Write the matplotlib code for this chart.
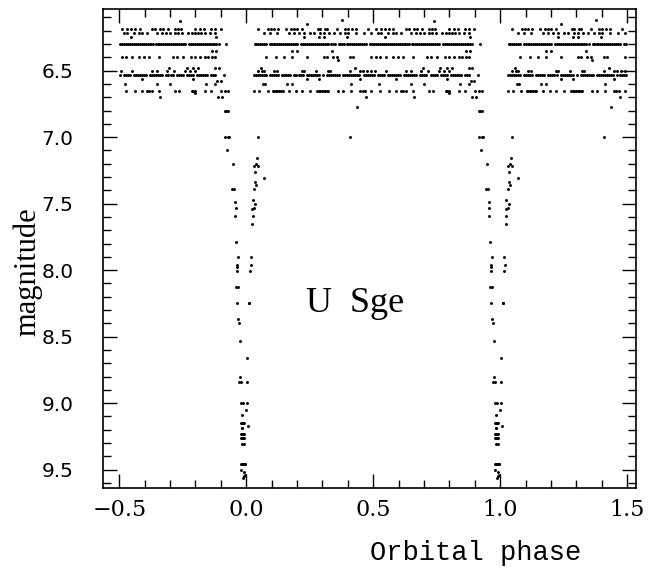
import numpy as np
import matplotlib
matplotlib.use("Agg")
import matplotlib.pyplot as plt
from matplotlib.ticker import MultipleLocator, FixedLocator, FixedFormatter

# ---- data: one orbital cycle, phases, grouped by magnitude ----
row_612 = [0.376]
row_615 = [0.240]
row_613 = [0.739]
row_619 = [0.048, 0.087, 0.097, 0.110, 0.127, 0.156, 0.175, 0.188, 0.201, 0.220, 0.281, 0.292,
           0.311, 0.320, 0.357, 0.389, 0.402, 0.415, 0.434, 0.480, 0.510, 0.532, 0.547, 0.564,
           0.580, 0.629, 0.642, 0.661, 0.674, 0.691, 0.720, 0.733, 0.743, 0.798, 0.817, 0.834,
           0.863, 0.876, 0.899]
row_622 = [0.069, 0.095, 0.121, 0.169, 0.188, 0.208, 0.227, 0.253, 0.268, 0.292, 0.305, 0.328,
           0.344, 0.370, 0.389, 0.402, 0.434, 0.463, 0.493, 0.519, 0.532, 0.558, 0.577, 0.590,
           0.610, 0.649, 0.668, 0.685, 0.701, 0.720, 0.730, 0.746, 0.772, 0.785, 0.798, 0.811,
           0.821, 0.837, 0.856, 0.878]
row_625 = [0.227, 0.285, 0.305, 0.398, 0.545, 0.880]
row_630 = [0.033, 0.040, 0.047, 0.055, 0.062, 0.070, 0.077, 0.092, 0.100, 0.108, 0.115, 0.123,
           0.131, 0.139, 0.146, 0.154, 0.162, 0.170, 0.177, 0.185, 0.193, 0.200, 0.216, 0.224,
           0.231, 0.239, 0.247, 0.255, 0.262, 0.270, 0.278, 0.286, 0.293, 0.301, 0.309, 0.317,
           0.324, 0.332, 0.340, 0.348, 0.364, 0.371, 0.379, 0.387, 0.395, 0.402, 0.410, 0.418,
           0.426, 0.433, 0.441, 0.449, 0.457, 0.464, 0.472, 0.488, 0.496, 0.503, 0.511, 0.519,
           0.527, 0.534, 0.542, 0.550, 0.558, 0.565, 0.573, 0.581, 0.589, 0.596, 0.604, 0.612,
           0.620, 0.627, 0.635, 0.643, 0.651, 0.658, 0.666, 0.674, 0.682, 0.689, 0.697, 0.705,
           0.713, 0.720, 0.728, 0.736, 0.744, 0.751, 0.759, 0.775, 0.782, 0.790, 0.798, 0.806,
           0.813, 0.821, 0.829, 0.837, 0.844, 0.852, 0.860, 0.868, 0.875, 0.883, 0.891, 0.921]
row_635 = [0.182, 0.201, 0.337, 0.864, 0.883]
row_640 = [0.078, 0.117, 0.149, 0.182, 0.240, 0.305, 0.320, 0.341, 0.357, 0.409, 0.422, 0.493,
           0.512, 0.525, 0.551, 0.577, 0.597, 0.616, 0.655, 0.713, 0.726, 0.752, 0.782, 0.798,
           0.817, 0.837, 0.850, 0.864, 0.878]
row_642 = [0.363]
row_648 = [0.058, 0.428, 0.697, 0.765, 0.789, 0.811, 0.876, 0.891]
row_650 = [0.045, 0.062, 0.069, 0.108, 0.121, 0.220, 0.227, 0.276, 0.324, 0.331, 0.409, 0.447,
           0.460, 0.476, 0.493, 0.506, 0.551, 0.629, 0.649, 0.688, 0.716, 0.759, 0.778, 0.798]
row_653 = [0.030, 0.038, 0.046, 0.054, 0.062, 0.070, 0.078, 0.094, 0.102, 0.110, 0.118, 0.126,
           0.142, 0.150, 0.158, 0.166, 0.174, 0.190, 0.198, 0.206, 0.214, 0.222, 0.238, 0.246,
           0.254, 0.262, 0.270, 0.278, 0.286, 0.302, 0.318, 0.326, 0.334, 0.342, 0.350, 0.358,
           0.366, 0.382, 0.390, 0.398, 0.406, 0.414, 0.422, 0.430, 0.438, 0.446, 0.462, 0.470,
           0.478, 0.486, 0.494, 0.502, 0.518, 0.526, 0.534, 0.542, 0.558, 0.566, 0.574, 0.582,
           0.590, 0.598, 0.606, 0.622, 0.630, 0.638, 0.646, 0.654, 0.662, 0.670, 0.686, 0.694,
           0.702, 0.710, 0.726, 0.734, 0.742, 0.750, 0.766, 0.774, 0.782, 0.790, 0.806, 0.814,
           0.822, 0.830, 0.838, 0.846, 0.862, 0.870, 0.878, 0.912]
row_656 = [0.240, 0.285, 0.450, 0.590, 0.791]
row_658 = [0.886, 0.899]
row_660 = [0.065, 0.074, 0.160, 0.182, 0.413, 0.523, 0.649, 0.701, 0.843, 0.876]
row_665 = [0.030, 0.052, 0.084, 0.104, 0.110, 0.117, 0.123, 0.130, 0.136, 0.143, 0.169, 0.195,
           0.220, 0.253, 0.279, 0.285, 0.292, 0.298, 0.305, 0.311, 0.318, 0.324, 0.363, 0.383,
           0.413, 0.447, 0.458, 0.467, 0.493, 0.525, 0.564, 0.590, 0.610, 0.619, 0.629, 0.655,
           0.720, 0.737, 0.785, 0.791, 0.798, 0.837, 0.863, 0.902, 0.915, 0.928]
row_667 = [0.798]
row_670 = [0.471, 0.661, 0.889, 0.903]
row_677 = [0.435]
row_680 = [0.915, 0.921, 0.928]
row_700 = [0.410, 0.048, 0.915, 0.928, 0.933]

# eclipse ingress / egress points (phase, magnitude)
eclipse_phase = [0.926, 0.949, 0.944, 0.952, 0.955, 0.958, 0.957, 0.961, 0.968, 0.964, 0.965,
                 0.964, 0.961, 0.968, 0.964, 0.968, 0.972, 0.974, 0.977, 0.970, 0.978, 0.978,
                 0.987, 0.985, 0.978, 0.982, 0.986, 0.990, 0.982, 0.985, 0.981, 0.984, 0.988,
                 0.991, 0.978, 0.982, 0.987, 0.992, 0.985, 0.990, 0.978, 0.982, 0.986, 0.990,
                 0.994, 0.997, 0.981, 0.993, 0.995, 0.990, 0.988,
                 0.043, 0.039, 0.030, 0.045, 0.035, 0.071, 0.035, 0.039, 0.030, 0.025, 0.035,
                 0.030, 0.023, 0.025, 0.022, 0.017, 0.019, 0.014, 0.010, 0.013, 0.004, 0.002,
                 0.004, 0.998, 0.006]
eclipse_mag = [7.10, 7.20, 7.39, 7.39, 7.49, 7.53, 7.59, 7.79, 7.90, 7.96, 7.98,
               8.01, 8.13, 8.13, 8.25, 8.37, 8.40, 8.53, 8.80, 8.84, 8.84, 9.00,
               9.00, 9.09, 9.15, 9.15, 9.15, 9.15, 9.19, 9.19, 9.23, 9.23, 9.23,
               9.23, 9.26, 9.26, 9.26, 9.26, 9.31, 9.31, 9.46, 9.46, 9.46, 9.46,
               9.46, 9.46, 9.50, 9.52, 9.54, 9.55, 9.56,
               7.16, 7.20, 7.22, 7.22, 7.26, 7.31, 7.34, 7.36, 7.39, 7.47, 7.50,
               7.53, 7.54, 7.59, 7.65, 7.90, 7.96, 8.01, 8.25, 8.25, 8.66, 8.84,
               9.00, 9.05, 9.17]

rows = [(6.12, row_612), (6.15, row_615), (6.13, row_613), (6.19, row_619), (6.22, row_622),
        (6.25, row_625), (6.30, row_630), (6.35, row_635), (6.40, row_640), (6.42, row_642),
        (6.48, row_648), (6.50, row_650), (6.53, row_653), (6.56, row_656), (6.58, row_658),
        (6.60, row_660), (6.65, row_665), (6.67, row_667), (6.70, row_670), (6.77, row_677),
        (6.80, row_680), (7.00, row_700)]

x_ticks = [-0.5, 0.0, 0.5, 1.0, 1.5]
x_tick_labels = ["\u22120.5", "0.0", "0.5", "1.0", "1.5"]
y_ticks = [6.5, 7.0, 7.5, 8.0, 8.5, 9.0, 9.5]
y_tick_labels = ["6.5", "7.0", "7.5", "8.0", "8.5", "9.0", "9.5"]

# assemble one cycle
phase_one = []
mag_one = []
for m, ph in rows:
    phase_one += list(ph)
    mag_one += [m] * len(ph)
phase_one += eclipse_phase
mag_one += eclipse_mag
phase_one = np.array(phase_one)
mag_one = np.array(mag_one)

# fold: show the cycle repeated over phase -0.5 .. 1.5
xs, ys = [], []
for off in (-1.0, 0.0, 1.0):
    p = phase_one + off
    keep = (p >= -0.5) & (p <= 1.5)
    xs.append(p[keep])
    ys.append(mag_one[keep])
xs = np.concatenate(xs)
ys = np.concatenate(ys)

fig = plt.figure(figsize=(6.48, 5.72), dpi=100)
ax = fig.add_axes([0.1585, 0.1469, 0.823, 0.8374])
ax.scatter(xs, ys, s=4.5, c="black", marker="o", linewidths=0)

ax.set_xlim(-0.565, 1.535)
ax.set_ylim(9.638, 6.036)

ax.xaxis.set_major_locator(FixedLocator(x_ticks))
ax.xaxis.set_major_formatter(FixedFormatter(x_tick_labels))
ax.xaxis.set_minor_locator(MultipleLocator(0.1))
ax.yaxis.set_major_locator(FixedLocator(y_ticks))
ax.yaxis.set_major_formatter(FixedFormatter(y_tick_labels))
ax.yaxis.set_minor_locator(MultipleLocator(0.1))

ax.tick_params(which="both", direction="in", top=True, right=True, color="black")
ax.tick_params(which="major", length=10, width=1.0)
ax.tick_params(which="minor", length=6, width=1.0)
for lab in ax.get_xticklabels():
    lab.set_fontfamily("DejaVu Serif")
    lab.set_fontsize(16)
for lab in ax.get_yticklabels():
    lab.set_fontfamily("DejaVu Sans")
    lab.set_fontsize(14.5)
ax.tick_params(axis="x", pad=8)
ax.tick_params(axis="y", pad=21)
for sp in ax.spines.values():
    sp.set_linewidth(1.2)

ax.text(0.43, 8.25, "U  Sge", fontsize=26, family="Liberation Serif", ha="center", va="center")

fig.text(476 / 648, 1 - 553 / 572, "Orbital phase", fontsize=19.5, family="Liberation Mono",
         ha="center", va="center")
fig.text(28 / 648, 1 - 272 / 572, "magnitude", fontsize=22, family="Liberation Serif",
         ha="center", va="center", rotation=90)

fig.savefig("out.png", dpi=100, facecolor="white")
